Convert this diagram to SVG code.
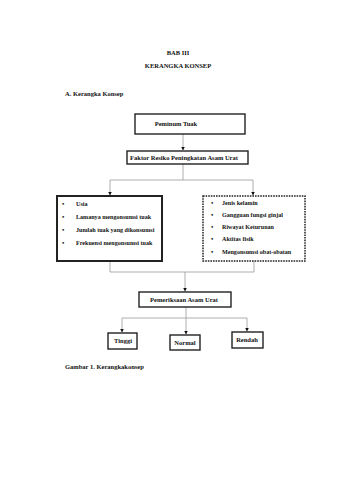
<svg xmlns="http://www.w3.org/2000/svg" width="340" height="480" viewBox="0 0 340 480">
<style>
text{font-family:"Liberation Serif","Times New Roman",serif;font-weight:bold;fill:#111;font-size:6.5px}
.c{text-anchor:middle}
.s{font-size:6.1px}
.box{fill:#fff;stroke:#222;stroke-width:1.4}
.thick{stroke-width:2}
.dash{stroke-dasharray:1.6 1;stroke-width:1.5}
.ln{fill:none;stroke:#999;stroke-width:0.8}
</style>
<defs>
<marker id="ah" markerWidth="4" markerHeight="4" refX="3.5" refY="2" orient="auto" markerUnits="userSpaceOnUse">
<path d="M0,0 L4,2 L0,4 Z" fill="#111"/>
</marker>
</defs>
<rect width="340" height="480" fill="#fff"/>
<g id="heading">
<text class="c" x="178" y="55">BAB III</text>
<text class="c" x="178" y="68">KERANGKA KONSEP</text>
<text x="65" y="96">A.  Kerangka Konsep</text>
</g>
<g id="connectors">
<line class="ln" x1="183" y1="134" x2="183" y2="150" marker-end="url(#ah)"/>
<polyline class="ln" points="183,164 183,180 110,180 110,195" marker-end="url(#ah)"/>
<polyline class="ln" points="183,180 253,180 253,195" marker-end="url(#ah)"/>
<polyline class="ln" points="110,261 110,272 254,272 254,260"/>
<line class="ln" x1="185" y1="272" x2="185" y2="291" marker-end="url(#ah)"/>
<polyline class="ln" points="186,307 186,318 122,318 122,332" marker-end="url(#ah)"/>
<line class="ln" x1="186" y1="318" x2="186" y2="334" marker-end="url(#ah)"/>
<polyline class="ln" points="186,318 247,318 247,331" marker-end="url(#ah)"/>
</g>
<g id="peminum">
<rect class="box" x="135" y="114" width="110" height="20"/>
<text class="c" x="176" y="126">Peminum Tuak</text>
</g>
<g id="faktor">
<rect class="box" x="127" y="151" width="121" height="13"/>
<text class="c" x="184" y="160">Faktor Resiko Peningkatan Asam Urat</text>
</g>
<g id="left">
<rect class="box thick" x="57" y="196" width="105" height="65"/>
<text x="62" y="206">•</text><text class="s" x="76" y="206">Usia</text>
<text x="62" y="219">•</text><text class="s" x="76" y="219">Lamanya mengonsumsi tuak</text>
<text x="62" y="232">•</text><text class="s" x="76" y="232">Jumlah tuak yang dikonsumsi</text>
<text x="62" y="245">•</text><text class="s" x="76" y="245">Frekuensi mengonsumsi tuak</text>
</g>
<g id="right">
<rect class="box dash" x="203" y="196" width="102" height="65"/>
<text x="211" y="205">•</text><text class="s" x="222" y="205">Jenis kelamin</text>
<text x="211" y="217">•</text><text class="s" x="222" y="217">Gangguan fungsi ginjal</text>
<text x="211" y="229">•</text><text class="s" x="222" y="229">Riwayat Keturunan</text>
<text x="211" y="241">•</text><text class="s" x="222" y="241">Aktitas fisik</text>
<text x="211" y="254">•</text><text class="s" x="222" y="254">Mengonsumsi obat-obatan</text>
</g>
<g id="pemeriksaan">
<rect class="box" x="139" y="292" width="92" height="15"/>
<text class="c" x="184" y="302">Pemeriksaan  Asam Urat</text>
</g>
<g id="tinggi">
<rect class="box" x="108" y="333" width="29" height="16"/>
<text class="c" x="123" y="343">Tinggi</text>
</g>
<g id="normal">
<rect class="box" x="170" y="335" width="30" height="15"/>
<text class="c" x="185" y="345">Normal</text>
</g>
<g id="rendah">
<rect class="box" x="232" y="332" width="31" height="16"/>
<text class="c" x="247" y="342">Rendah</text>
</g>
<g id="caption">
<text x="65" y="369">Gambar 1. Kerangkakonsep</text>
</g>
</svg>
